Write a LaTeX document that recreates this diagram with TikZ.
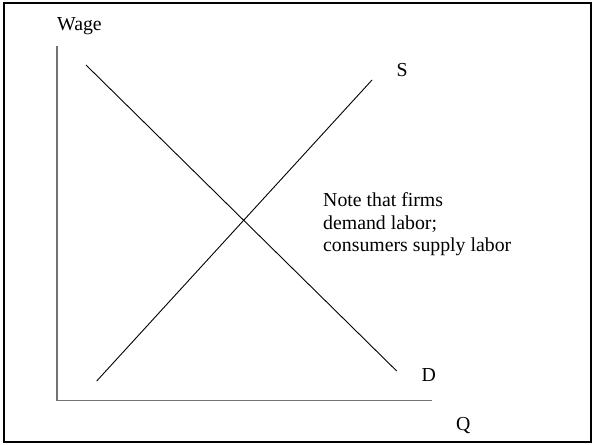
\documentclass[tikz,border=0pt]{standalone}
\usepackage{fontspec}
\setmainfont{Liberation Serif}
\begin{document}
\begin{tikzpicture}[x=1pt,y=-1pt,
  lbl/.style={inner sep=0pt,anchor=base west,font=\fontsize{19.8}{22.5}\selectfont},
  axis/.style={draw=black!55,line width=1.4pt},
  curve/.style={draw=black,line width=0.9pt},
  frame/.style={draw=black,line width=2pt}]
\useasboundingbox (0,0) rectangle (593,444);
\draw[frame] (4.3,3) rectangle (591,442);
% axes
\coordinate (top) at (57,46);
\coordinate (origin) at (57,400.7);
\coordinate (right) at (432,400.7);
\draw[axis] (top) -- (origin) -- (right);
% curves
\coordinate (s1) at (96.7,381);
\coordinate (s2) at (372,80);
\coordinate (d1) at (86,65);
\coordinate (d2) at (396.7,371);
\draw[curve] (s1) -- (s2);
\draw[curve] (d1) -- (d2);
% labels
\node[lbl] (wage) at (57,30.5) {Wage};
\node[lbl] (S) at (396.5,76) {S};
\node[lbl] (D) at (421.5,381) {D};
\node[lbl] (Q) at (456,430) {Q};
\node[lbl] (note1) at (323,206.7) {Note that firms};
\node[lbl] (note2) at (323,229.2) {demand labor;};
\node[lbl] (note3) at (323,251.7) {consumers supply labor};
\end{tikzpicture}
\end{document}
